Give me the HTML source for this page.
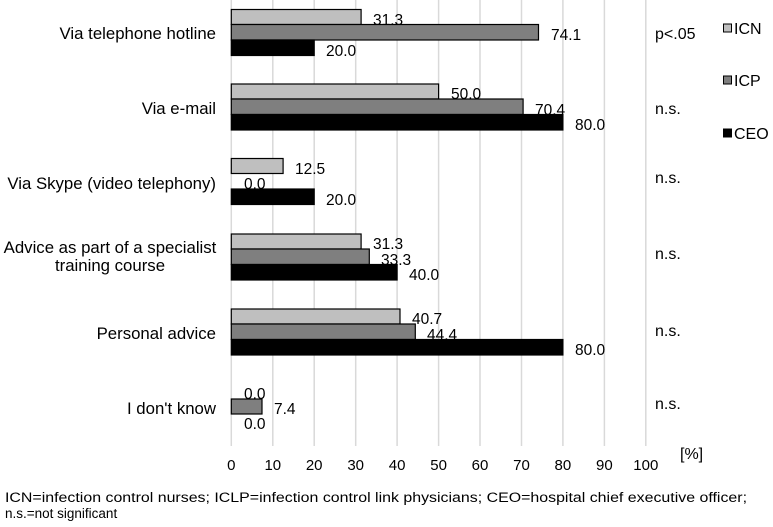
<!DOCTYPE html>
<html><head><style>body{margin:0;background:#fff}svg{display:block}text{font-family:"Liberation Sans",Arial,sans-serif;fill:#000}</style></head>
<body>
<svg width="773" height="527" xmlns="http://www.w3.org/2000/svg">
<g stroke="#d9d9d9" stroke-width="1.5">
<line x1="231.3" y1="0" x2="231.3" y2="446"/><line x1="272.8" y1="0" x2="272.8" y2="446"/><line x1="314.2" y1="0" x2="314.2" y2="446"/><line x1="355.7" y1="0" x2="355.7" y2="446"/><line x1="397.1" y1="0" x2="397.1" y2="446"/><line x1="438.6" y1="0" x2="438.6" y2="446"/><line x1="480" y1="0" x2="480" y2="446"/><line x1="521.5" y1="0" x2="521.5" y2="446"/><line x1="562.9" y1="0" x2="562.9" y2="446"/><line x1="604.4" y1="0" x2="604.4" y2="446"/><line x1="645.8" y1="0" x2="645.8" y2="446"/>
</g>
<g stroke="#000" stroke-width="1.2">
<rect x="231.3" y="9.5" width="129.8" height="15" fill="#bfbfbf"/>
<rect x="231.3" y="24.5" width="307.2" height="15.5" fill="#7f7f7f"/>
<rect x="231.3" y="40" width="82.9" height="15.5" fill="#000"/>
<rect x="231.3" y="84" width="207.3" height="15" fill="#bfbfbf"/>
<rect x="231.3" y="99" width="291.8" height="15.5" fill="#7f7f7f"/>
<rect x="231.3" y="114.5" width="331.6" height="15.5" fill="#000"/>
<rect x="231.3" y="158.5" width="51.8" height="15" fill="#bfbfbf"/>
<rect x="231.3" y="189" width="82.9" height="15.5" fill="#000"/>
<rect x="231.3" y="234" width="129.8" height="15" fill="#bfbfbf"/>
<rect x="231.3" y="249" width="138" height="15.5" fill="#7f7f7f"/>
<rect x="231.3" y="264.5" width="165.8" height="15.5" fill="#000"/>
<rect x="231.3" y="309" width="168.7" height="15" fill="#bfbfbf"/>
<rect x="231.3" y="324" width="184" height="15.5" fill="#7f7f7f"/>
<rect x="231.3" y="339.5" width="331.6" height="15.5" fill="#000"/>
<rect x="231.3" y="399" width="30.7" height="15" fill="#7f7f7f"/>
</g>
<g font-size="15.5">
<text x="373" y="25">31.3</text><text x="551" y="40">74.1</text><text x="326" y="56">20.0</text>
<text x="451" y="99">50.0</text><text x="535" y="115">70.4</text><text x="575" y="130">80.0</text>
<text x="295" y="174">12.5</text><text x="244" y="189">0.0</text><text x="326" y="205">20.0</text>
<text x="373" y="249">31.3</text><text x="381" y="265">33.3</text><text x="409" y="280">40.0</text>
<text x="412" y="324">40.7</text><text x="427" y="340">44.4</text><text x="575" y="355">80.0</text>
<text x="244" y="399">0.0</text><text x="274" y="414">7.4</text><text x="244" y="429">0.0</text>
</g>
<g font-size="16.8" text-anchor="end">
<text x="216" y="39">Via telephone hotline</text>
<text x="216" y="114">Via e-mail</text>
<text x="216" y="189">Via Skype (video telephony)</text>
<text x="216" y="339">Personal advice</text>
<text x="216" y="414">I don't know</text>
</g>
<g font-size="16.8" text-anchor="middle">
<text x="110" y="253">Advice as part of a specialist</text>
<text x="110" y="271">training course</text>
</g>
<g font-size="16">
<text x="655" y="39">p&lt;.05</text><text x="655" y="114">n.s.</text><text x="655" y="183">n.s.</text><text x="655" y="259">n.s.</text><text x="655" y="336">n.s.</text><text x="655" y="409">n.s.</text>
</g>
<g stroke="#000" stroke-width="1">
<rect x="723.5" y="24" width="8" height="8" fill="#bfbfbf"/>
<rect x="723.5" y="76" width="8" height="8" fill="#7f7f7f"/>
<rect x="723.5" y="129" width="8" height="8" fill="#000"/>
</g>
<g font-size="16">
<text x="734" y="34">ICN</text><text x="734" y="86">ICP</text><text x="734" y="139">CEO</text>
</g>
<g font-size="15" text-anchor="middle">
<text x="231.3" y="470">0</text><text x="272.8" y="470">10</text><text x="314.2" y="470">20</text><text x="355.7" y="470">30</text><text x="397.1" y="470">40</text><text x="438.6" y="470">50</text><text x="480" y="470">60</text><text x="521.5" y="470">70</text><text x="562.9" y="470">80</text><text x="604.4" y="470">90</text><text x="645.8" y="470">100</text>
</g>
<text x="680" y="459" font-size="16">[%]</text>
<g font-size="13.5">
<text x="5" y="502" textLength="742" lengthAdjust="spacingAndGlyphs">ICN=infection control nurses; ICLP=infection control link physicians; CEO=hospital chief executive officer;</text>
<text x="5" y="518">n.s.=not significant</text>
</g>
</svg>
</body></html>
